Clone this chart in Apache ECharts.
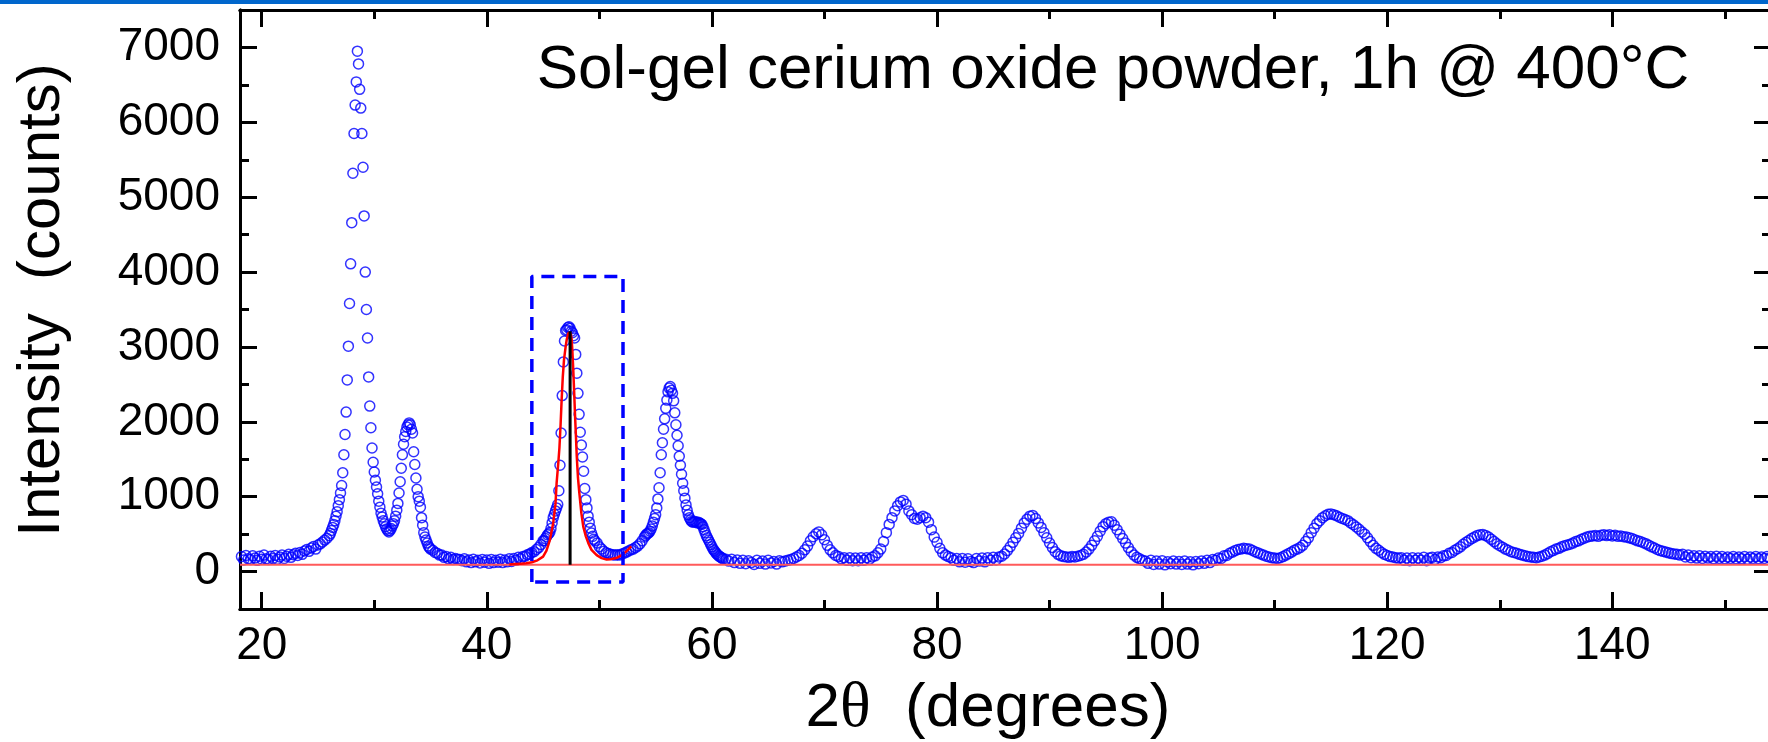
<!DOCTYPE html>
<html>
<head>
<meta charset="utf-8">
<script src="https://cdn.jsdelivr.net/npm/echarts/dist/echarts.min.js"></script>
<style>
  html, body { margin: 0; padding: 0; background: #fff; }
  .top-bar { position: absolute; left: 0; top: 0; width: 1768px; height: 4px; background: #0066cc; z-index: 2; }
  #chart { width: 1768px; height: 742px; }
</style>
</head>
<body>
<div class="top-bar"></div>
<div id="chart"></div>
<script>
// axis ranges and tick positions
const X_MIN = 18.07, X_MAX = 154.1;
const Y_MIN = -500, Y_MAX = 7500;
const xMajorTicks = [20, 40, 60, 80, 100, 120, 140];
const xMinorTicks = [30, 50, 70, 90, 110, 130, 150];
const yMajorTicks = [0, 1000, 2000, 3000, 4000, 5000, 6000, 7000];
const yMinorTicks = [500, 1500, 2500, 3500, 4500, 5500, 6500];

// measured scan, split in pieces with their own start angle and step
const scanAStart = 18.2, scanAStep = 0.2;
const scanA = [200, 155, 215, 170, 160, 210, 180, 150, 205, 165, 220, 170, 160, 205, 175, 215, 165, 195, 220, 175,
  205, 230, 190, 225, 245, 215, 255, 230, 275, 295, 270, 315, 335, 300, 355, 370, 395, 420, 445];

const scanBStart = 26.0, scanBStep = 0.1;
const scanB = [480, 510, 550, 590, 630, 680, 740, 800, 880, 960,
  1050, 1150, 1320, 1560, 1830, 2130, 2560, 3010, 3580, 4110,
  4660, 5320, 5850, 6230, 6540, 6950, 6780, 6440, 6190, 5850,
  5400, 4750, 4000, 3500, 3120, 2600, 2210, 1920, 1650, 1460,
  1330, 1220, 1130, 1040, 940, 860, 780, 730, 680, 640,
  600, 570, 545, 530, 550, 575, 610, 640, 680, 740,
  820, 910, 1050, 1200, 1380, 1560, 1700, 1800, 1870, 1930,
  1960, 1985, 1960, 1900, 1850, 1600, 1430, 1250, 1100, 1000,
  940, 860, 720, 620, 520, 460, 420, 380, 340, 320,
  300];

const scanCStart = 35.2, scanCStep = 0.2;
const scanC = [285, 255, 245, 220, 220, 190, 200, 170, 190, 160, 175, 165, 160, 145, 170, 130, 155, 120, 165, 130,
  150, 115, 160, 125, 155, 110, 160, 120, 150, 125, 165, 120, 155, 130, 170, 135, 175, 150, 190, 170,
  200, 205, 225, 235, 255, 265, 295, 320, 360, 410];

const scanDStart = 45.1, scanDStep = 0.1;
const scanD = [410, 440, 465, 490, 505, 525, 575, 650, 720, 765,
  810, 850, 895, 1080, 1420, 1850, 2350, 2800, 3080, 3220,
  3230, 3260, 3270, 3250, 3210, 3190, 3150, 3120, 2900, 2650,
  2380, 2100, 1860, 1690, 1530, 1340, 1110, 960, 850, 740,
  660, 580, 515, 470, 430];

const scanEStart = 49.6, scanEStep = 0.2;
const scanE = [410, 380, 330, 300, 270, 250, 240, 230, 225, 220, 225, 220, 235, 245, 260, 275, 290, 300, 320, 340,
  370, 410, 460];

const scanFStart = 54.1, scanFStep = 0.1;
const scanF = [480, 500, 510, 520, 540, 570, 610, 660, 710, 760,
  850, 970, 1120, 1320, 1560, 1720, 1900, 2040, 2180, 2290,
  2400, 2450, 2470, 2420, 2380, 2280, 2120, 1960, 1820, 1680,
  1540, 1420, 1300, 1180, 1080, 980, 890, 820, 760, 720,
  690, 670, 660, 665, 670, 660, 650, 660, 650, 640,
  630, 600, 560, 520, 480, 450, 420, 390, 360, 330,
  300, 280, 260, 240, 225, 210, 200, 190, 180, 170];

const scanGStart = 61.25, scanGStep = 0.25;
const scanG = [165, 140, 165, 120, 155, 110, 150, 105, 145, 120, 95, 150, 110, 140, 100, 150, 115, 135, 100, 145,
  130, 140, 150, 160, 175, 195, 215, 245, 290, 340, 410, 465, 505, 530, 490, 425, 350, 290, 250, 215,
  200, 170, 185, 150, 185, 145, 180, 145, 185, 150, 185, 165, 195, 210, 250, 300, 400, 520, 630, 720,
  810, 880, 930, 950, 900, 810, 760, 710, 700, 720, 740, 720, 660, 560, 460, 390, 310, 250, 220, 200,
  185, 150, 175, 130, 175, 125, 170, 135, 120, 175, 140, 180, 130, 185, 150, 190, 155, 195, 205, 235,
  280, 330, 390, 450, 510, 580, 650, 700, 740, 750, 710, 650, 590, 520, 450, 380, 320, 265, 230, 210,
  200, 195, 190, 200, 195, 205, 215, 230, 260, 300, 350, 410, 470, 540, 600, 640, 660, 665, 620, 560,
  500, 440, 380, 320, 265, 220, 190, 170, 150, 140, 110, 150, 95, 140, 100, 145, 90, 130, 105, 140,
  100, 135, 95, 140, 100, 130, 90, 135, 105, 140, 110, 150, 120, 160, 150, 180, 175, 210, 215, 245,
  260, 280, 295, 300, 310, 305, 300, 285, 265, 250, 235, 220, 205, 195, 185, 180, 175, 185, 200, 220,
  240, 260, 285, 300, 320, 350, 400, 450, 520, 580, 640, 680, 720, 745, 765, 770, 760, 745, 725, 710,
  695, 680, 650, 625, 595, 565, 530, 500, 450, 400, 350, 310, 285, 255, 230, 215, 200, 195, 185, 180,
  185, 150, 180, 145, 185, 150, 180, 150, 190, 145, 180, 190, 160, 195, 185, 210, 215, 245, 255, 285,
  305, 330, 365, 390, 415, 440, 460, 480, 490, 495, 480, 460, 430, 400, 370, 345, 325, 300, 285, 265,
  255, 245, 230, 220, 210, 200, 195, 190, 185, 195, 205, 220, 240, 265, 280, 300, 310, 330, 345, 355,
  365, 380, 400, 410, 430, 445, 460, 470, 475, 480, 470, 485, 490, 480, 490, 475, 485, 470, 475, 465,
  460, 450, 440, 425, 410, 400, 385, 370, 350, 330, 315, 295, 280, 270, 260, 250, 240, 235, 230, 220,
  230, 195, 220, 185, 210, 180, 210, 175, 205, 180, 200, 170, 205, 175, 200, 170, 195, 175, 200, 170,
  195, 170, 200, 165, 195, 175, 200, 170, 195, 175, 200, 180];

// fitted profile of the (220) peak
const fitTheta = [42.0, 42.5, 43.0, 43.5, 44.0, 44.5, 45.0, 45.3, 45.6, 45.9, 46.1, 46.2, 46.35, 46.45, 46.55, 46.65,
  46.75, 46.86, 47.0, 47.1, 47.25, 47.35, 47.45, 47.54, 47.6, 47.68, 47.76, 47.84, 47.92, 47.99, 48.1, 48.2,
  48.28, 48.4, 48.57, 48.8, 49.02, 49.3, 49.76, 50.2, 50.65, 51.0, 51.5, 52.0, 52.4, 52.84];
const fitCounts = [95, 100, 105, 110, 125, 150, 200, 280, 420, 650, 900, 1180, 1450, 1650, 1950, 2300,
  2600, 2830, 3000, 3100, 3190, 3210, 3180, 3100, 2950, 2700, 2400, 2080, 1800, 1540, 1250, 1080,
  960, 780, 600, 470, 380, 290, 220, 180, 160, 165, 180, 220, 270, 335];

const backgroundLevel = 90;
const stickTheta = 47.4, stickTop = 3210;
const boxTheta = [44.0, 52.1];
const boxCounts = [-140, 3940];

const titleText = 'Sol-gel cerium oxide powder, 1h @ 400°C';
const yName = 'Intensity  (counts)';

function buildScan(start, step, counts) {
  return counts.map((c, i) => [+(start + i * step).toFixed(3), c]);
}

const scanPoints = [].concat(
  buildScan(scanAStart, scanAStep, scanA),
  buildScan(scanBStart, scanBStep, scanB),
  buildScan(scanCStart, scanCStep, scanC),
  buildScan(scanDStart, scanDStep, scanD),
  buildScan(scanEStart, scanEStep, scanE),
  buildScan(scanFStart, scanFStep, scanF),
  buildScan(scanGStart, scanGStep, scanG)
);

const FONT = '"Liberation Sans", Arial, sans-serif';
const black = '#000';

function makeAxis(kind, position, ticks, tickLen, withLabels) {
  const isX = kind === 'x';
  return {
    type: 'value',
    position,
    min: isX ? X_MIN : Y_MIN,
    max: isX ? X_MAX : Y_MAX,
    axisLine: { show: true, onZero: false, lineStyle: { color: black, width: 3 } },
    axisTick: { show: true, inside: true, length: tickLen, customValues: ticks, lineStyle: { color: black, width: 3 } },
    axisLabel: withLabels
      ? { show: true, customValues: ticks, formatter: (v) => String(v), color: black, fontSize: 46, fontFamily: FONT, margin: isX ? 14 : 20 }
      : { show: false },
    splitLine: { show: false },
    minorTick: { show: false },
  };
}

const chart = echarts.init(document.getElementById('chart'));
const option = {
  animation: false,
  backgroundColor: '#fff',
  grid: { left: 240, top: 10, width: 1531, height: 599, containLabel: false, outerBoundsMode: 'none' },
  xAxis: [
    makeAxis('x', 'bottom', xMajorTicks, 17, true),
    makeAxis('x', 'bottom', xMinorTicks, 9, false),
    makeAxis('x', 'top', xMajorTicks, 17, false),
    makeAxis('x', 'top', xMinorTicks, 9, false),
  ],
  yAxis: [
    makeAxis('y', 'left', yMajorTicks, 17, true),
    makeAxis('y', 'left', yMinorTicks, 9, false),
    makeAxis('y', 'right', yMajorTicks, 17, false),
    makeAxis('y', 'right', yMinorTicks, 9, false),
  ],
  graphic: [
    {
      type: 'text', x: 1113, y: 71,
      style: { text: titleText, font: '62px ' + FONT, fill: black, align: 'center', verticalAlign: 'middle', textAlign: 'center', textVerticalAlign: 'middle' },
    },
    {
      type: 'text', x: 42, y: 300, rotation: Math.PI / 2,
      style: { text: yName, font: '60px ' + FONT, fill: black, align: 'center', verticalAlign: 'middle', textAlign: 'center', textVerticalAlign: 'middle' },
    },
    {
      type: 'text', x: 988, y: 709,
      style: {
        text: '{a|2}{t|θ}{a|  (degrees)}',
        fill: black, align: 'center', verticalAlign: 'middle', textAlign: 'center', textVerticalAlign: 'middle',
        rich: {
          a: { fontSize: 62, fontFamily: FONT, color: black },
          t: { fontSize: 64, fontFamily: '"Liberation Serif", serif', color: black },
        },
      },
    },
  ],
  series: [
    {
      type: 'scatter',
      data: scanPoints,
      symbol: 'circle',
      symbolSize: 10,
      itemStyle: { color: 'rgba(0,0,0,0)', borderColor: '#0000ff', borderWidth: 1.5 },
      z: 2,
    },
    {
      type: 'line',
      data: [[X_MIN, backgroundLevel], [X_MAX, backgroundLevel]],
      symbol: 'none',
      lineStyle: { color: '#ff5a5a', width: 2 },
      z: 3,
    },
    {
      type: 'line',
      data: fitTheta.map((t, i) => [t, fitCounts[i]]),
      symbol: 'none',
      lineStyle: { color: '#ff0000', width: 2.5 },
      z: 4,
    },
    {
      type: 'line',
      data: [[stickTheta, backgroundLevel], [stickTheta, stickTop]],
      symbol: 'none',
      lineStyle: { color: black, width: 3 },
      z: 5,
    },
    {
      type: 'line',
      data: [
        [boxTheta[0], boxCounts[0]], [boxTheta[0], boxCounts[1]],
        [boxTheta[1], boxCounts[1]], [boxTheta[1], boxCounts[0]],
        [boxTheta[0], boxCounts[0]],
      ],
      symbol: 'none',
      lineStyle: { color: '#0000ff', width: 3.5, type: [13, 8] },
      z: 5,
    },
  ],
};
chart.setOption(option);
</script>
</body>
</html>
